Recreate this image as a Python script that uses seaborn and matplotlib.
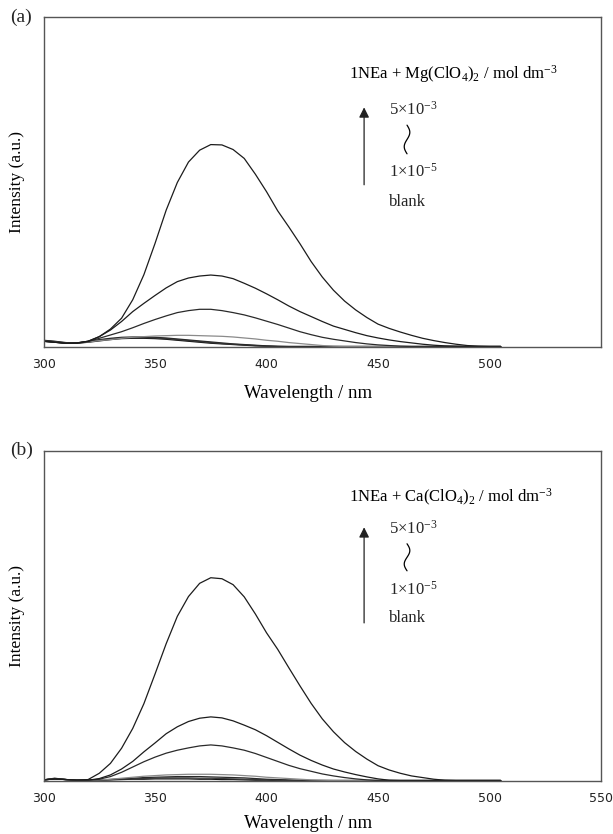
import numpy as np
import pandas as pd
import matplotlib
matplotlib.use("Agg")
import matplotlib.pyplot as plt
import seaborn as sns

# ---------------- data ----------------
wavelength = [300, 305, 310, 315, 320, 325, 330, 335, 340, 345, 350, 355, 360, 365,
              370, 375, 380, 385, 390, 395, 400, 405, 410, 415, 420, 425, 430, 435,
              440, 445, 450, 455, 460, 465, 470, 475, 480, 485, 490, 495, 500, 505]

series_names = ["5e-3", "c2", "c3", "c4", "c5", "c6", "blank"]

# Panel (a): 1NEa + Mg(ClO4)2
mg_c1 = [1.6, 1.3, 1.0, 1.0, 1.6, 3.0, 5.3, 8.6, 14.2, 21.8, 31.3, 41.4, 49.8, 56.0,
         59.6, 61.3, 61.2, 59.8, 57.1, 52.3, 47.0, 41.2, 36.3, 31.2, 25.8, 21.1, 17.1, 13.8,
         11.1, 8.8, 6.8, 5.5, 4.4, 3.4, 2.5, 1.8, 1.2, 0.7, 0.3, 0.1, 0.0, 0.0]
mg_c2 = [1.6, 1.3, 1.0, 1.1, 1.6, 3.0, 5.0, 7.6, 10.6, 13.1, 15.5, 17.8, 19.7, 20.8,
         21.4, 21.7, 21.4, 20.6, 19.2, 17.7, 16.0, 14.2, 12.3, 10.6, 9.1, 7.6, 6.2, 5.2,
         4.2, 3.3, 2.6, 2.0, 1.5, 1.1, 0.7, 0.4, 0.2, 0.1, 0.0, 0.0, 0.0, 0.0]
mg_c3 = [1.6, 1.3, 1.0, 1.1, 1.5, 2.5, 3.5, 4.5, 5.7, 7.0, 8.2, 9.3, 10.3, 10.9,
         11.3, 11.3, 10.9, 10.3, 9.6, 8.7, 7.7, 6.7, 5.6, 4.5, 3.6, 2.8, 2.2, 1.7,
         1.2, 0.8, 0.5, 0.3, 0.1, 0.0, 0.0, 0.0, 0.0, 0.0, 0.0, 0.0, 0.0, 0.0]
mg_c4 = [1.6, 1.3, 1.0, 1.1, 1.4, 1.8, 2.1, 2.5, 2.8, 3.0, 3.2, 3.3, 3.4, 3.4,
         3.3, 3.2, 3.1, 2.9, 2.6, 2.3, 1.9, 1.6, 1.2, 0.9, 0.6, 0.3, 0.1, 0.0,
         0.0, 0.0, 0.0, 0.0, 0.0, 0.0, 0.0, 0.0, 0.0, 0.0, 0.0, 0.0, 0.0, 0.0]
mg_c5 = [1.7, 1.4, 1.0, 1.1, 1.6, 2.1, 2.5, 2.8, 2.9, 2.9, 2.8, 2.6, 2.3, 2.0,
         1.7, 1.4, 1.1, 0.8, 0.6, 0.4, 0.2, 0.1, 0.0, 0.0, 0.0, 0.0, 0.0, 0.0,
         0.0, 0.0, 0.0, 0.0, 0.0, 0.0, 0.0, 0.0, 0.0, 0.0, 0.0, 0.0, 0.0, 0.0]
mg_c6 = [1.8, 1.5, 1.1, 1.0, 1.4, 1.9, 2.3, 2.6, 2.7, 2.7, 2.6, 2.4, 2.1, 1.8,
         1.5, 1.2, 0.9, 0.7, 0.5, 0.3, 0.1, 0.0, 0.0, 0.0, 0.0, 0.0, 0.0, 0.0,
         0.0, 0.0, 0.0, 0.0, 0.0, 0.0, 0.0, 0.0, 0.0, 0.0, 0.0, 0.0, 0.0, 0.0]
mg_blank = [1.9, 1.6, 1.2, 1.0, 1.3, 1.7, 2.1, 2.4, 2.5, 2.5, 2.4, 2.2, 1.9, 1.6,
            1.3, 1.0, 0.8, 0.6, 0.4, 0.2, 0.1, 0.0, 0.0, 0.0, 0.0, 0.0, 0.0, 0.0,
            0.0, 0.0, 0.0, 0.0, 0.0, 0.0, 0.0, 0.0, 0.0, 0.0, 0.0, 0.0, 0.0, 0.0]

# Panel (b): 1NEa + Ca(ClO4)2
ca_c1 = [0.2, 0.5, 0.3, 0.1, 0.3, 2.2, 5.2, 9.8, 15.8, 23.3, 32.3, 41.5, 49.8, 55.8,
         59.8, 61.5, 61.2, 59.4, 55.7, 50.5, 44.8, 39.8, 34.2, 28.7, 23.4, 18.7, 14.8, 11.5,
         8.8, 6.5, 4.5, 3.2, 2.2, 1.4, 0.9, 0.4, 0.1, 0.0, 0.0, 0.0, 0.0, 0.0]
ca_c2 = [0.2, 0.5, 0.3, 0.1, 0.1, 0.6, 1.7, 3.5, 5.8, 8.7, 11.4, 14.2, 16.3, 17.9,
         18.9, 19.3, 19.0, 18.1, 16.8, 15.4, 13.6, 11.6, 9.6, 7.7, 6.1, 4.7, 3.5, 2.6,
         1.8, 1.1, 0.5, 0.1, 0.0, 0.0, 0.0, 0.0, 0.0, 0.0, 0.0, 0.0, 0.0, 0.0]
ca_c3 = [0.2, 0.5, 0.3, 0.1, 0.1, 0.4, 1.2, 2.5, 4.1, 5.7, 7.1, 8.3, 9.2, 9.9,
         10.5, 10.8, 10.5, 9.9, 9.2, 8.2, 7.0, 5.8, 4.6, 3.6, 2.8, 2.0, 1.4, 0.9,
         0.5, 0.2, 0.0, 0.0, 0.0, 0.0, 0.0, 0.0, 0.0, 0.0, 0.0, 0.0, 0.0, 0.0]
ca_c4 = [0.2, 0.5, 0.3, 0.1, 0.1, 0.2, 0.4, 0.7, 1.0, 1.3, 1.5, 1.7, 1.8, 1.9,
         1.9, 1.9, 1.8, 1.7, 1.5, 1.3, 1.0, 0.8, 0.6, 0.4, 0.2, 0.1, 0.0, 0.0,
         0.0, 0.0, 0.0, 0.0, 0.0, 0.0, 0.0, 0.0, 0.0, 0.0, 0.0, 0.0, 0.0, 0.0]
ca_c5 = [0.2, 0.6, 0.3, 0.1, 0.1, 0.2, 0.3, 0.5, 0.7, 0.9, 1.0, 1.1, 1.2, 1.2,
         1.2, 1.1, 1.0, 0.9, 0.8, 0.6, 0.4, 0.3, 0.2, 0.1, 0.0, 0.0, 0.0, 0.0,
         0.0, 0.0, 0.0, 0.0, 0.0, 0.0, 0.0, 0.0, 0.0, 0.0, 0.0, 0.0, 0.0, 0.0]
ca_c6 = [0.2, 0.5, 0.3, 0.1, 0.1, 0.2, 0.3, 0.4, 0.5, 0.6, 0.7, 0.8, 0.8, 0.8,
         0.7, 0.7, 0.6, 0.5, 0.4, 0.3, 0.2, 0.1, 0.0, 0.0, 0.0, 0.0, 0.0, 0.0,
         0.0, 0.0, 0.0, 0.0, 0.0, 0.0, 0.0, 0.0, 0.0, 0.0, 0.0, 0.0, 0.0, 0.0]
ca_blank = [0.2, 0.7, 0.3, 0.1, 0.1, 0.1, 0.2, 0.3, 0.4, 0.4, 0.5, 0.5, 0.5, 0.5,
            0.4, 0.4, 0.3, 0.3, 0.2, 0.1, 0.1, 0.0, 0.0, 0.0, 0.0, 0.0, 0.0, 0.0,
            0.0, 0.0, 0.0, 0.0, 0.0, 0.0, 0.0, 0.0, 0.0, 0.0, 0.0, 0.0, 0.0, 0.0]

xticks_a = [300, 350, 400, 450, 500]
xticks_b = [300, 350, 400, 450, 500, 550]

title_a = r"1NEa + Mg(ClO$_4$)$_2$ / mol dm$^{\mathregular{-3}}$"
title_b = r"1NEa + Ca(ClO$_4$)$_2$ / mol dm$^{\mathregular{-3}}$"
label_hi = r"5$\times$10$^{\mathregular{-3}}$"
label_lo = r"1$\times$10$^{\mathregular{-5}}$"
label_blank = "blank"

# ---------------- styling ----------------
sns.set_theme(style="white")
plt.rcParams["font.family"] = ["Liberation Serif", "DejaVu Serif"]
plt.rcParams["mathtext.fontset"] = "custom"
plt.rcParams["mathtext.rm"] = "Liberation Serif"
plt.rcParams["mathtext.it"] = "Liberation Serif:italic"
plt.rcParams["mathtext.default"] = "regular"

palette = {"5e-3": "#1c1c1c", "c2": "#1c1c1c", "c3": "#2a2a2a", "c4": "#8a8a8a",
           "c5": "#2a2a2a", "c6": "#3a3a3a", "blank": "#111111"}

fig = plt.figure(figsize=(6.13, 8.34), dpi=100)
ax_a = fig.add_axes([0.071, 0.5845, 0.9095, 0.395])
ax_b = fig.add_axes([0.071, 0.0641, 0.9095, 0.3954])


def make_df(curves):
    frames = []
    for name, vals in zip(series_names, curves):
        frames.append(pd.DataFrame({"wl": wavelength, "I": vals, "conc": name}))
    return pd.concat(frames, ignore_index=True)


def draw_panel(ax, curves, xticks, title, panel_label, ylayout, xlabel_y):
    df = make_df(curves)
    sns.lineplot(data=df, x="wl", y="I", hue="conc", palette=palette,
                 hue_order=series_names[::-1], legend=False, linewidth=0.9,
                 ax=ax, estimator=None, sort=False)
    ax.set_xlim(300, 550)
    ax.set_ylim(0, 100)
    ax.set_xticks(xticks)
    ax.set_xticklabels([str(t) for t in xticks], fontfamily="DejaVu Sans",
                       fontsize=9, color="#222222")
    ax.set_yticks([0, 50, 100])
    ax.set_yticklabels([])
    ax.tick_params(axis="both", direction="in", length=4, width=0.8,
                   color="#555555", pad=8)
    ax.tick_params(axis="y", pad=2)
    for sp in ax.spines.values():
        sp.set_color("#555555")
        sp.set_linewidth(1.0)
    ax.set_xlabel("Wavelength / nm", fontsize=13.5, labelpad=10, color="black")
    ax.xaxis.set_label_coords(0.474, xlabel_y)
    ax.set_ylabel("Intensity (a.u.)", fontsize=12.5, labelpad=11, color="black")

    ty, a_tail, a_head, hi_y, sq_top, sq_bot, lo_y, bl_y = ylayout
    ax.text(0.548, ty, title, transform=ax.transAxes, fontsize=12,
            ha="left", va="center", color="black")
    ax.annotate("", xy=(0.575, a_head), xytext=(0.575, a_tail),
                xycoords="axes fraction", textcoords="axes fraction",
                arrowprops=dict(arrowstyle="-|>", color="#222222", lw=0.9,
                                mutation_scale=15, shrinkA=0, shrinkB=0))
    ax.text(0.62, hi_y, label_hi, transform=ax.transAxes, fontsize=12,
            ha="left", va="center")
    ax.text(0.62, lo_y, label_lo, transform=ax.transAxes, fontsize=12,
            ha="left", va="center")
    ax.text(0.62, bl_y, label_blank, transform=ax.transAxes, fontsize=12,
            ha="left", va="center")
    # squiggle (decorative "to" sign between the two concentration labels)
    t = np.linspace(0, 1, 60)
    sx = 0.652 + 0.005 * np.sin(2 * np.pi * t)
    sy = sq_top + (sq_bot - sq_top) * t
    ax.plot(sx, sy, transform=ax.transAxes, color="black", lw=0.9)

    fig.text(0.016, ax.get_position().y1 + 0.0, panel_label, fontsize=14,
             ha="left", va="center")


draw_panel(ax_a, [mg_c1, mg_c2, mg_c3, mg_c4, mg_c5, mg_c6, mg_blank],
           xticks_a, title_a, "(a)",
           (0.826, 0.491, 0.726, 0.718, 0.672, 0.585, 0.530, 0.440), -0.118)
draw_panel(ax_b, [ca_c1, ca_c2, ca_c3, ca_c4, ca_c5, ca_c6, ca_blank],
           xticks_b, title_b, "(b)",
           (0.860, 0.478, 0.768, 0.764, 0.718, 0.636, 0.578, 0.493), -0.104)

fig.savefig("out.png", dpi=100)
